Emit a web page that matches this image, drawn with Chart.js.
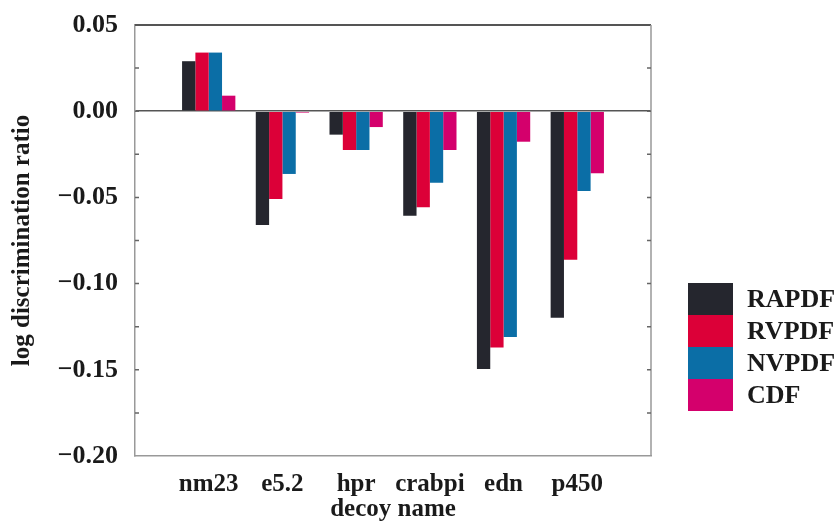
<!DOCTYPE html>
<html>
<head>
<meta charset="utf-8">
<script src="https://cdn.jsdelivr.net/npm/chart.js@4.4.0/dist/chart.umd.min.js"></script>
<style>
  html, body { margin: 0; padding: 0; background: #fff; }
</style>
</head>
<body>
<canvas id="myChart" width="837" height="525"></canvas>
<script>
// values
const decoys = ['nm23', 'e5.2', 'hpr', 'crabpi', 'edn', 'p450'];
const rapdf = [0.029, -0.066, -0.0136, -0.0606, -0.1495, -0.1198];
const rvpdf = [0.034, -0.051, -0.0225, -0.0557, -0.137, -0.0861];
const nvpdf = [0.034, -0.0364, -0.0225, -0.0415, -0.131, -0.0463];
const cdf = [0.009, -0.0008, -0.0092, -0.0225, -0.0177, -0.036];
const seriesNames = ['RAPDF', 'RVPDF', 'NVPDF', 'CDF'];
const yMin = -0.20, yMax = 0.05, yStep = 0.05;

const serif = "'Liberation Serif', 'Times New Roman', serif";
const colors = ['#25262e', '#dc0038', '#0b6ea6', '#d4006c'];

// empty slot at each end so the groups sit like in the original
const pad = arr => [null, ...arr, null];

function fmt(v) {
  if (Math.abs(v) < 1e-9) return '0.00';
  return (v < 0 ? '\u2212' : '') + Math.abs(v).toFixed(2);
}

const frameAndLegend = {
  id: 'frameAndLegend',
  afterDraw(chart) {
    const ctx = chart.ctx;
    const a = chart.chartArea;
    const y = chart.scales.y;
    ctx.save();
    // top and right edge of the box
    ctx.strokeStyle = '#555';
    ctx.lineWidth = 2;
    ctx.beginPath();
    ctx.moveTo(a.left, a.top);
    ctx.lineTo(a.right, a.top);
    ctx.stroke();
    ctx.strokeStyle = '#999';
    ctx.lineWidth = 1.5;
    ctx.beginPath();
    ctx.moveTo(a.right, a.top);
    ctx.lineTo(a.right, a.bottom);
    ctx.stroke();
    // small inward ticks on both sides
    ctx.strokeStyle = '#666';
    ctx.lineWidth = 1.5;
    for (let i = 1; i < 10; i++) {
      const py = y.getPixelForValue(yMax - i * yStep / 2);
      ctx.beginPath();
      ctx.moveTo(a.left, py);
      ctx.lineTo(a.left + 4, py);
      ctx.moveTo(a.right, py);
      ctx.lineTo(a.right - 4, py);
      ctx.stroke();
    }
    // legend: stacked colour blocks
    const x0 = 688, y0 = 283, bw = 45, bh = 32;
    ctx.font = 'bold 26px ' + serif;
    ctx.textBaseline = 'middle';
    ctx.textAlign = 'left';
    chart.data.datasets.forEach((ds, i) => {
      ctx.fillStyle = ds.backgroundColor;
      ctx.fillRect(x0, y0 + i * bh, bw, bh);
      ctx.fillStyle = '#1a1a1a';
      ctx.fillText(ds.label, x0 + bw + 14, y0 + i * bh + bh / 2 + 1);
    });
    ctx.restore();
  }
};

new Chart(document.getElementById('myChart'), {
  type: 'bar',
  data: {
    labels: pad(decoys),
    datasets: [rapdf, rvpdf, nvpdf, cdf].map((d, i) => ({
      label: seriesNames[i],
      data: pad(d),
      backgroundColor: colors[i],
      borderWidth: 0,
      categoryPercentage: 0.723,
      barPercentage: 1
    }))
  },
  options: {
    responsive: false,
    animation: false,
    layout: { padding: { top: 25, right: 186, left: 0, bottom: 0 } },
    plugins: {
      legend: { display: false },
      tooltip: { enabled: false }
    },
    scales: {
      x: {
        offset: false,
        grid: { display: false, drawTicks: false },
        border: { color: '#999', width: 1.5 },
        ticks: {
          autoSkip: false,
          maxRotation: 0,
          padding: 14,
          color: '#1a1a1a',
          font: { family: serif, size: 25, weight: 'bold' }
        },
        title: {
          display: true,
          text: 'decoy name',
          color: '#1a1a1a',
          padding: { top: 0, bottom: 0 },
          font: { family: serif, size: 25, weight: 'bold' }
        },
        afterFit(scale) {
          scale.height = 69;
          scale.paddingLeft = 0;
          scale.paddingRight = 0;
        }
      },
      y: {
        min: yMin,
        max: yMax,
        grid: {
          drawTicks: false,
          color: c => Math.abs(c.tick.value) < 1e-9 ? '#555' : 'rgba(0,0,0,0)',
          lineWidth: 1.5
        },
        border: { color: '#999', width: 1.5 },
        ticks: {
          stepSize: yStep,
          padding: 17,
          color: '#1a1a1a',
          font: { family: serif, size: 26, weight: 'bold' },
          callback: v => fmt(v)
        },
        title: {
          display: true,
          text: 'log discrimination ratio',
          color: '#1a1a1a',
          padding: { top: 8, bottom: 0 },
          font: { family: serif, size: 25, weight: 'bold' }
        },
        afterFit(scale) {
          scale.width = 135;
          scale.paddingTop = 0;
          scale.paddingBottom = 0;
        }
      }
    }
  },
  plugins: [frameAndLegend]
});
</script>
</body>
</html>
